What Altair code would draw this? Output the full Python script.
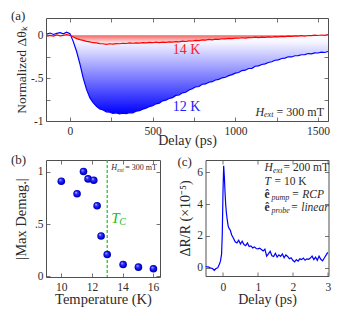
import altair as alt
import pandas as pd

# ---------------- data ----------------
# (a) normalized Kerr rotation vs delay
a_delay = [-140, -120, -100, -80, -60, -40, -20, 0, 20, 40, 60, 80, 100, 120, 140, 160, 180, 200,
           220, 240, 260, 280, 300, 320, 340, 360, 380, 400, 420, 440, 460, 480, 500, 520, 540, 560,
           580, 600, 620, 640, 660, 680, 700, 720, 740, 760, 780, 800, 820, 840, 860, 880, 900, 920,
           940, 960, 980, 1000, 1020, 1040, 1060, 1080, 1100, 1120, 1140, 1160, 1180, 1200, 1220,
           1240, 1260, 1280, 1300, 1320, 1340, 1360, 1380, 1400, 1420, 1440, 1460, 1480, 1500, 1520,
           1540, 1560]
a_12k = [0.012, 0.025, 0.008, 0.02, 0.03, 0.015, 0.035, 0.018, -0.075, -0.19, -0.335, -0.5, -0.632,
         -0.728, -0.785, -0.828, -0.86, -0.872, -0.893, -0.896, -0.91, -0.905, -0.918, -0.908, -0.915,
         -0.902, -0.905, -0.886, -0.88, -0.862, -0.85, -0.832, -0.822, -0.8, -0.792, -0.765, -0.756,
         -0.738, -0.728, -0.702, -0.697, -0.672, -0.665, -0.638, -0.625, -0.602, -0.598, -0.572,
         -0.568, -0.548, -0.542, -0.522, -0.515, -0.497, -0.49, -0.472, -0.46, -0.442, -0.435,
         -0.412, -0.408, -0.388, -0.386, -0.362, -0.358, -0.342, -0.334, -0.318, -0.31, -0.292,
         -0.288, -0.272, -0.268, -0.252, -0.254, -0.24, -0.238, -0.228, -0.226, -0.214, -0.218,
         -0.206, -0.208, -0.198, -0.202, -0.19]
a_14k = [-0.012, -0.002, -0.01, 0.002, -0.008, -0.003, 0.006, -0.002, -0.022, -0.04, -0.052, -0.06,
         -0.072, -0.078, -0.088, -0.09, -0.098, -0.1, -0.108, -0.1, -0.104, -0.098, -0.1, -0.094,
         -0.097, -0.09, -0.094, -0.09, -0.092, -0.086, -0.09, -0.084, -0.088, -0.082, -0.086, -0.08,
         -0.084, -0.078, -0.082, -0.075, -0.078, -0.07, -0.074, -0.066, -0.068, -0.06, -0.064,
         -0.056, -0.058, -0.05, -0.054, -0.046, -0.048, -0.042, -0.044, -0.038, -0.04, -0.034,
         -0.036, -0.03, -0.034, -0.028, -0.03, -0.024, -0.028, -0.022, -0.025, -0.02, -0.024,
         -0.018, -0.02, -0.014, -0.018, -0.012, -0.014, -0.008, -0.012, -0.006, -0.01, -0.004,
         -0.006, 0.0, -0.004, 0.002, -0.002, 0.006]

# (b) max demagnetization vs temperature
b_temp = [10.0, 11.03, 11.45, 11.75, 12.12, 12.34, 12.6, 13.0, 14.04, 15.04, 16.02]
b_demag = [0.908, 0.788, 1.0, 0.93, 0.917, 0.674, 0.386, 0.209, 0.114, 0.089, 0.073]
b_tc = [13.0]

# (c) reflectivity transient
c_delay = [-0.50, -0.45, -0.40, -0.35, -0.30, -0.25, -0.20, -0.15, -0.10, -0.07, -0.04, -0.02,
           0.00, 0.02, 0.04, 0.06, 0.08, 0.10, 0.12, 0.15, 0.18, 0.21, 0.25, 0.30, 0.35, 0.40,
           0.45, 0.50, 0.55, 0.60, 0.65, 0.70, 0.75, 0.80, 0.85, 0.90, 0.95, 1.00, 1.05, 1.10,
           1.15, 1.20, 1.25, 1.30, 1.35, 1.40, 1.45, 1.50, 1.55, 1.60, 1.65, 1.70, 1.75, 1.80,
           1.85, 1.90, 1.95, 2.00, 2.05, 2.10, 2.15, 2.20, 2.25, 2.30, 2.35, 2.40, 2.45, 2.50,
           2.55, 2.60, 2.65, 2.70, 2.75, 2.80, 2.85, 2.90, 2.95, 3.00]
c_dr = [0.08, 0.04, 0.03, -0.04, -0.06, -0.17, -0.06, -0.02, 0.22, 0.42, 0.85, 2.1, 4.7, 6.4,
        5.7, 4.7, 3.9, 3.4, 3.05, 2.6, 2.45, 2.35, 2.05, 1.85, 1.62, 1.55, 1.72, 1.48, 1.66, 1.45,
        1.38, 1.55, 1.32, 1.36, 1.24, 1.3, 1.2, 1.18, 1.22, 1.14, 1.05, 1.16, 0.72, 0.86, 1.02,
        0.74, 0.7, 0.9, 0.66, 0.8, 0.7, 0.86, 0.62, 0.8, 0.7, 0.56, 0.62, 0.46, 0.36, 0.5, 0.4,
        0.55, 0.5, 0.6, 0.46, 0.55, 0.52, 0.6, 0.72, 0.5, 0.66, 0.46, 0.72, 0.52, 0.42, 0.6,
        0.78, 0.96]

# tick values
a_xticks = [0, 250, 500, 750, 1000, 1250, 1500]
a_yticks = [-1, -0.75, -0.5, -0.25, 0]
b_xticks = [10, 12, 14, 16]
b_yticks = [0, 0.5, 1]
c_xticks = [0, 1, 2, 3]
c_yticks = [0, 2, 4, 6]

# annotation anchors (data coordinates)
a_lab_x, a_lab14_y, a_lab12_y = 705, -0.167, -0.836
a_h_x, a_h_y = 1122, -0.895
b_h_x, b_h_y = 13.27, 1.03
b_tc_x, b_tc_y = 13.27, 0.557
c_ann_x = 1.19
c_ann_y = [6.29, 5.37, 4.57, 3.73]

# ---------------- style ----------------
FONT = "Liberation Serif"
INK = "#2b2b2b"
FRAME = "#505050"


def main_axis(orient, values, expr, title, title_size, label_pad, title_pad, extent=None):
    kw = dict(orient=orient, values=values, labelExpr=expr, title=title,
              titleFontSize=title_size, titleFontWeight="normal", titleFont=FONT,
              titleColor=INK, labelFont=FONT, labelFontSize=11.5, labelColor=INK,
              labelPadding=label_pad, titlePadding=title_pad, tickSize=4, tickColor=FRAME,
              tickWidth=0.8, offset=-4, domain=False, grid=False, labelOverlap=False,
              labelFlush=False)
    if extent is not None:
        kw.update(minExtent=extent, maxExtent=extent)
    return alt.Axis(**kw)


def mirror_axis(orient, values):
    return alt.Axis(orient=orient, values=values, labels=False, title=None, tickSize=4,
                    tickColor=FRAME, tickWidth=0.8, offset=-4, domain=False, grid=False,
                    minExtent=0, maxExtent=0)


def text_part(x, y, txt, xs, ys, dx=0, dy=0, size=12, style="normal", weight="normal",
              color=INK, align="left"):
    return alt.Chart(pd.DataFrame({"x": [x], "y": [y]})).mark_text(
        text=txt, align=align, baseline="middle", dx=dx, dy=dy, fontSize=size,
        fontStyle=style, fontWeight=weight, font=FONT, color=color
    ).encode(x=alt.X("x:Q", scale=xs, axis=None), y=alt.Y("y:Q", scale=ys, axis=None))


def panel_title(label, dx, offset):
    return alt.TitleParams(label, anchor="start", frame="group", dx=dx, offset=offset,
                           baseline="middle", fontSize=13, font=FONT, fontWeight="normal",
                           color=INK)


# ---------------- panel (a) ----------------
df_a = pd.DataFrame({"delay": a_delay, "v12": a_12k, "v14": a_14k})
xa = alt.Scale(domain=[-145, 1560], nice=False, zero=False)
ya = alt.Scale(domain=[-1, 0.2], nice=False, zero=False)

grad_blue = alt.Gradient(gradient="linear", x1=1, x2=1, y1=0, y2=1, stops=[
    alt.GradientStop(color="#ffffff", offset=0),
    alt.GradientStop(color="#f6f6ff", offset=0.12),
    alt.GradientStop(color="#0000ff", offset=1)])
grad_red = alt.Gradient(gradient="linear", x1=1, x2=1, y1=0, y2=1, stops=[
    alt.GradientStop(color="#f25a5a", offset=0),
    alt.GradientStop(color="#ffffff", offset=1)])

a_blue_area = alt.Chart(df_a).mark_area(color=grad_blue, clip=True).encode(
    x=alt.X("delay:Q", scale=xa,
            axis=main_axis("bottom", a_xticks,
                           "datum.value % 500 === 0 ? '' + datum.value : ''",
                           "Delay (ps)", 14, 4.4, -3)),
    y=alt.Y("v12:Q", scale=ya,
            axis=main_axis("left", a_yticks,
                           "datum.value === 0 ? '0' : datum.value === -0.5 ? '-.5' : "
                           "datum.value === -1 ? '-1' : ''",
                           "Normalized Δθₖ", 13.5, 3, 2, extent=20)),
    y2=alt.datum(0))
a_red_area = alt.Chart(df_a).mark_area(color=grad_red, clip=True).encode(
    x=alt.X("delay:Q", scale=xa, axis=mirror_axis("top", a_xticks)),
    y=alt.Y("v14:Q", scale=ya, axis=mirror_axis("right", a_yticks)),
    y2=alt.datum(0))
a_blue_line = alt.Chart(df_a).mark_line(color="#0000ff", strokeWidth=1.2, clip=True).encode(
    x=alt.X("delay:Q", scale=xa, axis=None), y=alt.Y("v12:Q", scale=ya, axis=None))
a_red_line = alt.Chart(df_a).mark_line(color="#ff0000", strokeWidth=1.2, clip=True).encode(
    x=alt.X("delay:Q", scale=xa, axis=None), y=alt.Y("v14:Q", scale=ya, axis=None))

panel_a = alt.layer(
    a_blue_area, a_red_area, a_blue_line, a_red_line,
    text_part(a_lab_x, a_lab14_y, "14 K", xa, ya, size=14, color="#ff2020", align="center"),
    text_part(a_lab_x, a_lab12_y, "12 K", xa, ya, size=14, color="#2020ff", align="center"),
    text_part(a_h_x, a_h_y, "H", xa, ya, size=12, style="italic"),
    text_part(a_h_x, a_h_y, "ext", xa, ya, dx=8.5, dy=3, size=8, style="italic"),
    text_part(a_h_x, a_h_y, "= 300 mT", xa, ya, dx=21, size=12),
).resolve_axis(x="independent", y="independent").properties(
    width=282, height=103, title=panel_title("(a)", -35, -11.5))

# ---------------- panel (b) ----------------
df_b = pd.DataFrame({"temp": b_temp, "demag": b_demag})
df_tc = pd.DataFrame({"tc": b_tc})
xb = alt.Scale(domain=[9, 16.45], nice=False, zero=False)
yb = alt.Scale(domain=[-0.005, 1.11], nice=False, zero=False)

ball = alt.RadialGradient(gradient="radial", x1=0.35, y1=0.3, r1=0, x2=0.5, y2=0.5, r2=0.5,
                          stops=[alt.GradientStop(color="#d8d8ff", offset=0),
                                 alt.GradientStop(color="#3434ff", offset=0.35),
                                 alt.GradientStop(color="#0000e0", offset=0.8),
                                 alt.GradientStop(color="#000090", offset=1)])

b_tc_rule = alt.Chart(df_tc).mark_rule(color="#22bb22", strokeWidth=1.2,
                                       strokeDash=[3, 2]).encode(
    x=alt.X("tc:Q", scale=xb, axis=mirror_axis("top", b_xticks)))
b_points = alt.Chart(df_b).mark_circle(color=ball, size=58, opacity=1).encode(
    x=alt.X("temp:Q", scale=xb,
            axis=main_axis("bottom", b_xticks, "'' + datum.value",
                           "Temperature (K)", 14.5, 4.4, 0)),
    y=alt.Y("demag:Q", scale=yb,
            axis=main_axis("left", b_yticks,
                           "datum.value === 0 ? '0' : datum.value === 0.5 ? '.5' : '1'",
                           "|Max Demag.|", 14.5, 3, 2, extent=20)))
b_right = alt.Chart(df_b).mark_point(opacity=0).encode(
    x=alt.X("temp:Q", scale=xb, axis=None),
    y=alt.Y("demag:Q", scale=yb, axis=mirror_axis("right", b_yticks)))

panel_b = alt.layer(
    b_tc_rule, b_points, b_right,
    text_part(b_tc_x, b_tc_y, "T", xb, yb, size=15, style="italic", color="#22bb22"),
    text_part(b_tc_x, b_tc_y, "C", xb, yb, dx=8, dy=4, size=10, style="italic",
              color="#22bb22"),
    text_part(b_h_x, b_h_y, "H", xb, yb, size=8, style="italic"),
    text_part(b_h_x, b_h_y, "ext", xb, yb, dx=6, dy=2, size=5.5, style="italic"),
    text_part(b_h_x, b_h_y, "= 300 mT", xb, yb, dx=14, size=8),
).resolve_axis(x="independent", y="independent").properties(
    width=114, height=117, title=panel_title("(b)", -35, -14))

# ---------------- panel (c) ----------------
df_c = pd.DataFrame({"delay": c_delay, "dr": c_dr})
xc = alt.Scale(domain=[-0.5, 3.02], nice=False, zero=False)
yc = alt.Scale(domain=[-0.53, 6.77], nice=False, zero=False)

c_line = alt.Chart(df_c).mark_line(color="#0000ff", strokeWidth=1.2, clip=True).encode(
    x=alt.X("delay:Q", scale=xc,
            axis=main_axis("bottom", c_xticks, "'' + datum.value", "Delay (ps)", 14, 5, 0)),
    y=alt.Y("dr:Q", scale=yc,
            axis=main_axis("left", c_yticks, "'' + datum.value", "ΔR/R (×10⁻⁵)", 14, 3,
                           3.6, extent=13)))
c_mirror = alt.Chart(df_c).mark_point(opacity=0).encode(
    x=alt.X("delay:Q", scale=xc, axis=mirror_axis("top", c_xticks)),
    y=alt.Y("dr:Q", scale=yc, axis=mirror_axis("right", c_yticks)))

cx, cy = c_ann_x, c_ann_y
panel_c = alt.layer(
    c_line, c_mirror,
    text_part(cx, cy[0], "H", xc, yc, size=11.5, style="italic"),
    text_part(cx, cy[0], "ext", xc, yc, dx=8.5, dy=3, size=8, style="italic"),
    text_part(cx, cy[0], "= 200 mT", xc, yc, dx=19, size=11.5),
    text_part(cx, cy[1], "T", xc, yc, size=11.5, style="italic"),
    text_part(cx, cy[1], "= 10 K", xc, yc, dx=10, size=11.5),
    text_part(cx, cy[2], "ê", xc, yc, size=11.5, weight="bold"),
    text_part(cx, cy[2], "pump", xc, yc, dx=7, dy=3, size=8, style="italic"),
    text_part(cx, cy[2], "= RCP", xc, yc, dx=27, size=11.5, style="italic"),
    text_part(cx, cy[3], "ê", xc, yc, size=11.5, weight="bold"),
    text_part(cx, cy[3], "probe", xc, yc, dx=7, dy=3, size=8, style="italic"),
    text_part(cx, cy[3], "= linear", xc, yc, dx=26, size=11.5, style="italic"),
).resolve_axis(x="independent", y="independent").properties(
    width=123, height=116, title=panel_title("(c)", -28, -15))

chart = alt.vconcat(
    panel_a,
    alt.hconcat(panel_b, panel_c, spacing=15.5),
    spacing=4,
).properties(
    padding={"left": 2, "top": 1, "right": 2, "bottom": 2}
).configure(font=FONT).configure_view(
    stroke=FRAME, strokeWidth=1
).configure_axis(
    labelFont=FONT, titleFont=FONT, titleFontWeight="normal"
).configure_title(font=FONT, fontWeight="normal").configure_text(font=FONT)

chart.save("out.html", embed_options={"renderer": "svg", "actions": False})
